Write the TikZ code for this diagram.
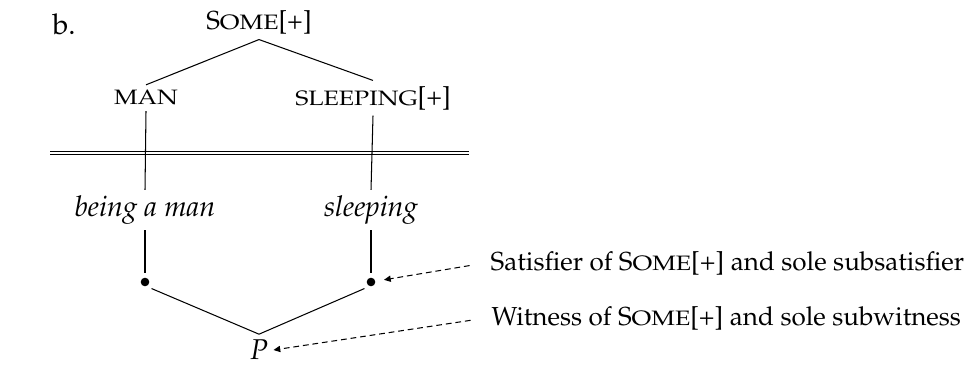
\documentclass[tikz,border=0pt]{standalone}
\usepackage[T1]{fontenc}
\usepackage{mathpazo}
\usepackage{graphicx}
\usepackage{tikz}
\usetikzlibrary{arrows.meta,positioning,calc}
\newcommand\fsc[1]{\scalebox{1.2}[1]{\fontsize{8}{9}\selectfont\MakeUppercase{#1}}}
\tikzset{
  lbl/.style={inner sep=2pt,font=\normalsize},
  itl/.style={lbl,font=\fontsize{11}{12}\selectfont\itshape},
  dotnode/.style={circle,fill=black,inner sep=0pt,minimum size=3.3pt,outer sep=1.9pt},
  ln/.style={draw=black,line width=0.4pt},
  dar/.style={ln,dash pattern=on 2.2pt off 1.5pt,-{Triangle[length=2.6pt,width=2.4pt]}},
}
\begin{document}
\begin{tikzpicture}[x=0.384pt,y=-0.384pt]
    \useasboundingbox (0,0) rectangle (975,367);
    \node[lbl,font=\fontsize{11}{12}\selectfont] (b) at (64,24) {b.};
    \node[lbl] (some) at (259,22) {S\fsc{ome}[+]};
    \node[lbl] (man) at (146,98) {\fsc{man}};
    \node[lbl] (sleep) at (373,98) {\fsc{sleeping}[+]};
    \node[itl] (being) at (145,210) {being a man};
    \node[itl] (sleeping) at (371,210) {sleeping};
    \node[dotnode] (d1) at (145,282) {};
    \node[dotnode] (d2) at (371,282) {};
    \node[itl] (p) at (259,350) {P};
    \node[lbl,anchor=west] (sat) at (485,263) {Satisfier of S\fsc{ome}[+] and sole subsatisfier};
    \node[lbl,anchor=west] (wit) at (486,318) {Witness of S\fsc{ome}[+] and sole subwitness};
    \coordinate (hl) at (50,153);\coordinate (hr) at (469,153);
    % tree
    \draw[ln](some.south)--(man.north);\draw[ln](some.south)--(sleep.north);
    \draw[ln,double,double distance=1.1pt](hl)--(hr);
    \draw[ln](man.south)--(being.north);\draw[ln](sleep.south)--(sleeping.north);
    \draw[ln](being.south)--(d1);\draw[ln](sleeping.south)--(d2);
    \draw[ln](d1.south east)--(p.north);\draw[ln](d2.south west)--(p.north);
    % comments
    \draw[dar,shorten <=6pt,shorten >=1.5pt](sat.west)--(d2);
    \draw[dar,shorten <=6pt](wit.west)--(p.east);
  \end{tikzpicture}
\end{document}
